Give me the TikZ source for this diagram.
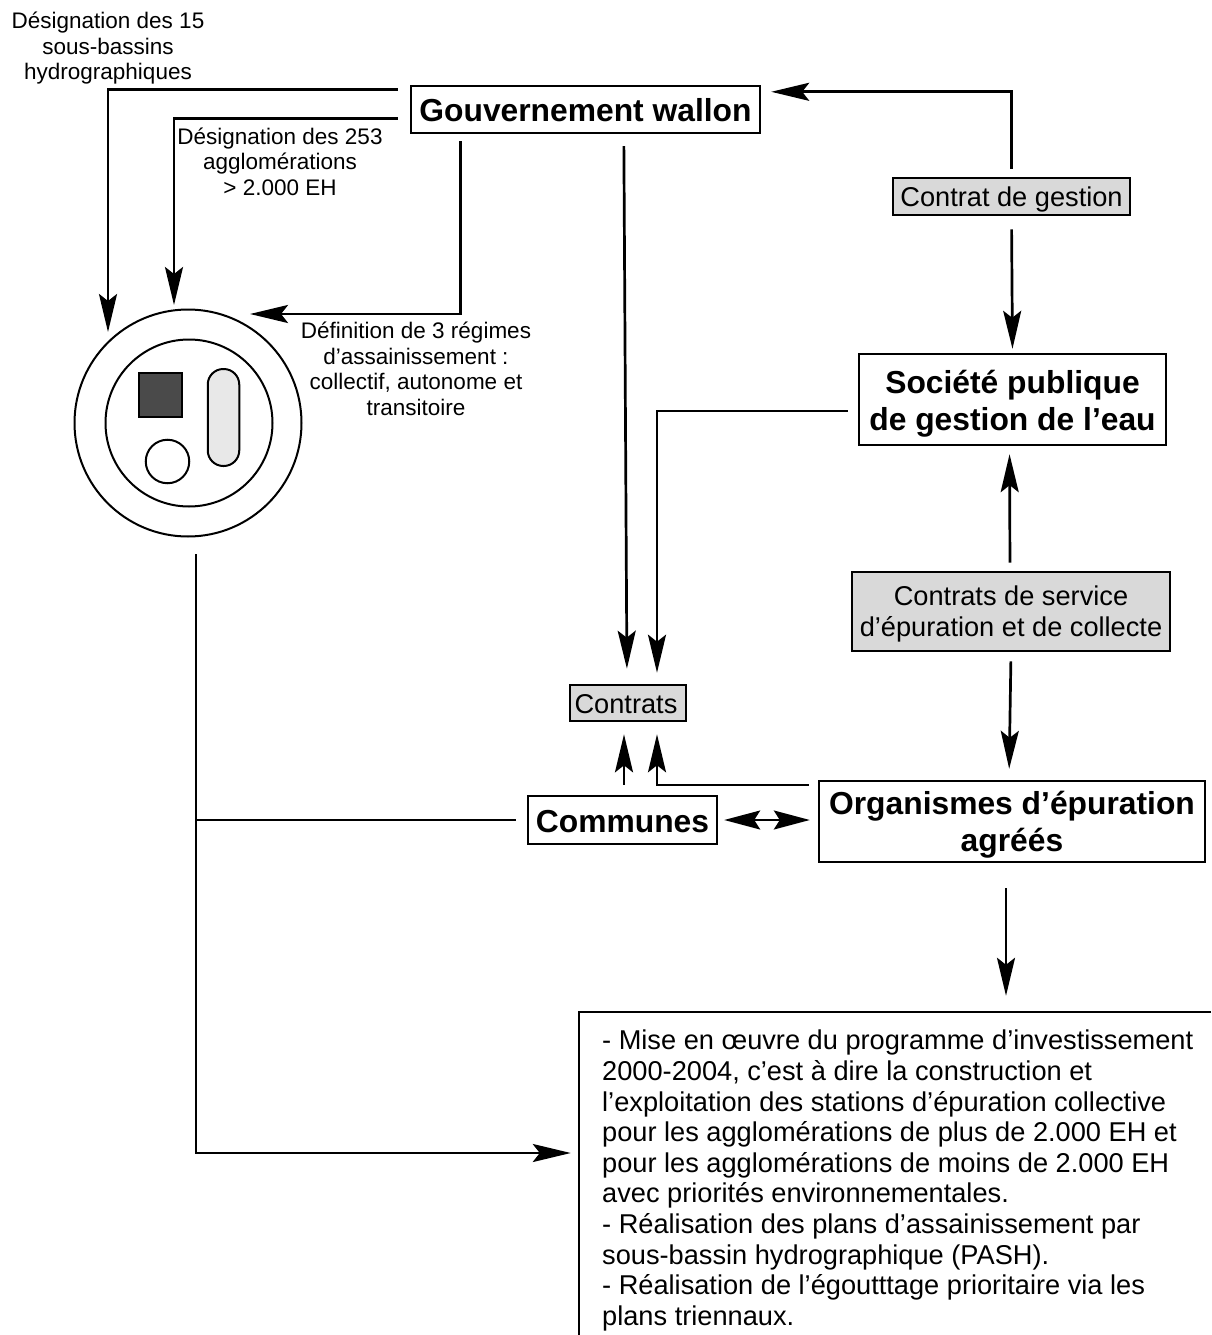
\documentclass[tikz,border=0pt]{standalone}
\usepackage{fontspec}
\setmainfont{Liberation Sans}
\usetikzlibrary{arrows.meta,calc}
\definecolor{boxgray}{HTML}{D9D9D9}
\definecolor{darksq}{HTML}{4A4A4A}
\definecolor{pillgray}{HTML}{E8E8E8}
\newcommand{\fsz}[2]{\fontsize{#1}{#2}\selectfont}
\newcommand{\dn}[2]{\raisebox{-#1pt}[\height][\depth]{\begin{tabular}{@{}c@{}}#2\end{tabular}}}
\tikzset{
  ln/.style={line width=2.7pt,line join=miter},
  arr/.style={ln,-{Stealth[length=38pt,width=18pt,inset=7pt]}},
  darr/.style={ln,line width=2pt,{Stealth[length=36pt,width=19pt,inset=6pt]}-{Stealth[length=36pt,width=19pt,inset=6pt]}},
  wbox/.style={draw,line width=2.4pt,fill=white,inner sep=0pt,align=center,font=\bfseries\fsz{31.8}{37}},
  gbox/.style={draw,line width=2.6pt,fill=boxgray,inner sep=0pt,align=center,font=\fsz{27.2}{31}},
  lab/.style={inner sep=0pt,align=center,font=\fsz{22.5}{25.5}},
  shp/.style={draw,line width=2pt,inner sep=0pt}
}
\begin{document}
\begin{tikzpicture}[x=1pt,y=-1pt]
\useasboundingbox (0,0) rectangle (1211,1335);
% boxes
\node[wbox,minimum width=349,minimum height=47] (gouv) at (585.5,109.5) {\dn{5}{Gouvernement wallon}};
\node[gbox,minimum width=237,minimum height=37] (contrat) at (1011.5,196.5) {\dn{4}{Contrat de gestion}};
\node[wbox,minimum width=307,minimum height=91] (soc) at (1012.5,399.5) {\dn{5}{Société publique\\de gestion de l’eau}};
\node[gbox,minimum width=318,minimum height=79] (serv) at (1011,611.5) {\dn{3}{Contrats de service\\d’épuration et de collecte}};
\node[gbox,minimum width=116,minimum height=36] (contrats) at (628,703) {\hspace*{-4pt}\dn{4}{Contrats}};
\node[wbox,minimum width=189,minimum height=48] (comm) at (622.5,820) {\dn{5}{Communes}};
\node[wbox,minimum width=386,minimum height=81] (org) at (1012,821.5) {\dn{4}{Organismes d’épuration\\agréés}};
% big cut-off text box
\node[inner sep=0pt,minimum width=632,minimum height=323] (body) at (895,1173.5) {};
\draw[line width=2.4pt] (body.north east) -- (body.north west) -- (body.south west);
\node[anchor=north west,inner sep=0pt,align=left,font=\fsz{27.2}{30.6}] (bodytext) at (602,1030) {- Mise en œuvre du programme d’investissement\\
2000-2004, c’est à dire la construction et\\
l’exploitation des stations d’épuration collective\\
pour les agglomérations de plus de 2.000 EH et\\
pour les agglomérations de moins de 2.000 EH\\
avec priorités environnementales.\\
- Réalisation des plans d’assainissement par\\
sous-bassin hydrographique (PASH).\\
- Réalisation de l’égoutttage prioritaire via les\\
plans triennaux.};
% circle diagram
\node[circle,shp,minimum size=227] (outer) at (188,423) {};
\node[circle,shp,minimum size=167] (inner) at (189,423) {};
\node[shp,fill=darksq,minimum width=43,minimum height=44] (sq) at (160,394.5) {};
\node[shp,fill=pillgray,rounded corners=15.5pt,minimum width=31.5,minimum height=97] (pill) at (223.5,417.5) {};
\node[circle,shp,minimum size=43.5] (small) at (167.5,461.5) {};
% labels
\node[lab] (l1) at (108,48.5) {Désignation des 15\\sous-bassins\\hydrographiques};
\node[lab] (l2) at (280,161.5) {Désignation des 253\\agglomérations\\> 2.000 EH};
\node[lab] (l3) at (416,369) {Définition de 3 régimes\\d’assainissement :\\collectif, autonome et\\transitoire};
% connectors
\coordinate (trunk) at ($(outer.south)+(8,0)$);
\draw[arr,shorten <=12pt] ($(gouv.north west)+(0,5)$) -| ($(outer.center)+(-80,-91)$);
\draw[arr,shorten <=12pt] ($(gouv.north west)+(0,34)$) -| ($(outer.center)+(-14,-118)$);
\draw[arr,shorten <=7pt] ($(gouv.south west)+(51,0)$) |- ($(outer.center)+(62,-109)$);
\draw[arr,shorten <=12pt,shorten >=15pt] ($(gouv.south west)+(214,0)$) -- ($(contrats.north)+(-1,0)$);
\draw[arr,shorten <=10pt,shorten >=11pt] ($(soc.west)+(0,11.5)$) -| ($(contrats.north)+(29,0)$);
\draw[arr,shorten <=10pt,shorten >=12pt] ($(comm.north)+(1.5,0)$) -- ($(contrats.south)+(-4,0)$);
\draw[arr,line width=2.2pt,shorten <=9pt,shorten >=12pt] ($(org.north west)+(0,5.5)$) -| ($(contrats.south)+(29,0)$);
\draw[arr,shorten <=8pt,shorten >=10pt] (contrat.north) |- ($(gouv.north east)+(0,7)$);
\draw[arr,shorten <=13pt,shorten >=4pt] (contrat.south) -- (soc.north);
\draw[arr,shorten <=8pt,shorten >=8pt] ($(serv.north)+(-1,0)$) -- ($(soc.south)+(-3,0)$);
\draw[arr,shorten <=9pt,shorten >=11pt] (serv.south) -- ($(org.north)+(-3,0)$);
\draw[arr,shorten <=25pt,shorten >=16pt] ($(org.south)+(-6,0)$) -- ($(body.north)+(111,0)$);
\draw[darr,shorten <=6pt,shorten >=8pt] (comm.east) -- ($(org.west)+(0,-1.5)$);
\draw[arr,shorten <=16.5pt,shorten >=8pt] (trunk) |- ($(body.west)+(0,-20.5)$);
\draw[ln,shorten <=11pt] (comm.west) -- (trunk |- comm.west);
\end{tikzpicture}
\end{document}
